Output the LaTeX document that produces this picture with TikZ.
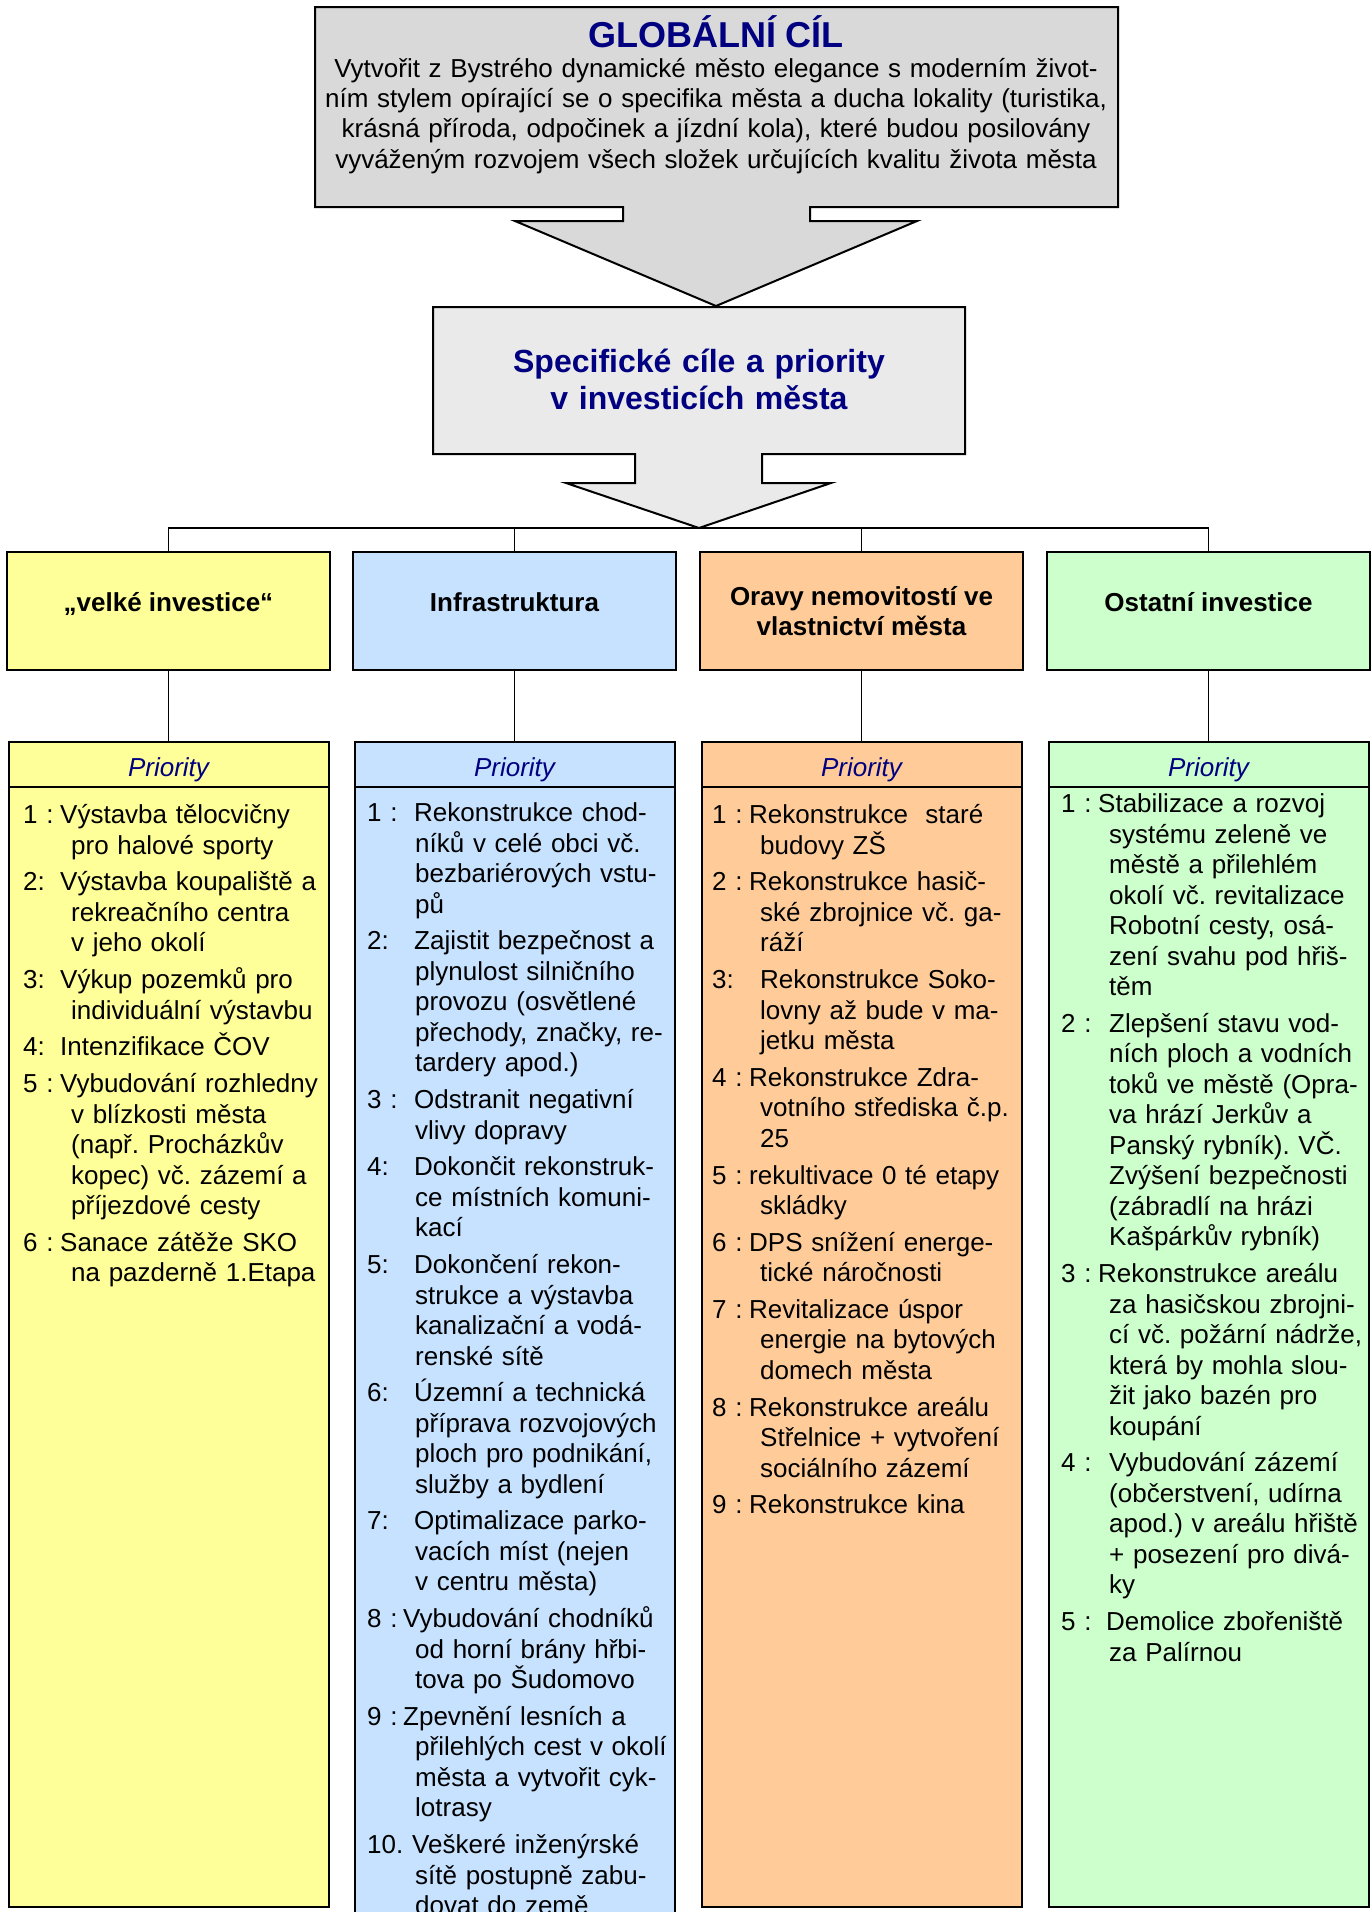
\documentclass[tikz,border=0pt]{standalone}
\usepackage{fontspec}
\setmainfont{Liberation Sans}
\usetikzlibrary{positioning}
\frenchspacing
\definecolor{goalgray}{HTML}{D9D9D9}
\definecolor{specgray}{HTML}{EAEAEA}
\definecolor{titleblue}{HTML}{000080}
\definecolor{invyellow}{HTML}{FFFF99}
\definecolor{infblue}{HTML}{C6E2FF}
\definecolor{repairorange}{HTML}{FFCC99}
\definecolor{othergreen}{HTML}{CCFFCC}
\newcommand{\prioitem}[3]{\par\noindent\hangindent=48pt\hangafter=1\makebox[#1][l]{#2}#3\par}
\tikzstyle{blockarrow} = [draw=black, line width=2pt]
\tikzstyle{goaltext} = [text width=800pt, inner sep=0pt, anchor=base, align=center, font=\fontsize{26}{30.3}\selectfont]
\tikzstyle{spectext} = [text width=520pt, inner sep=0pt, anchor=base, align=center, text=titleblue, font=\fontsize{32}{37}\selectfont\bfseries]
\tikzstyle{category} = [rectangle, minimum width=323pt, minimum height=118pt, text centered, align=center, draw=black, line width=2pt, outer sep=0pt, font=\fontsize{26}{30}\selectfont\bfseries]
\tikzstyle{oneline} = [text height=14pt, text depth=14pt]
\tikzstyle{prihead} = [rectangle, minimum width=320pt, minimum height=45pt, text height=24pt, text depth=0pt, draw=black, line width=2pt, outer sep=0pt, text=titleblue, font=\fontsize{26}{30}\selectfont\itshape]
\tikzstyle{pribody} = [rectangle, minimum width=320pt, minimum height=1120pt, draw=black, line width=2pt, outer sep=0pt]
\tikzstyle{prilist} = [text width=340pt, inner sep=0pt, anchor=base west, align=left, font=\fontsize{26}{30.5}\selectfont, execute at begin node={\setlength{\parskip}{6.2pt}}]
\tikzstyle{line} = [line width=1.6pt]

\begin{document}
\begin{tikzpicture}[x=1pt, y=-1pt]
    \clip (0,0) rectangle (1371,1912);
    \fill [white] (0,0) rectangle (1371,1912);

    % block arrows
    \filldraw [blockarrow, fill=goalgray] (315,7) -- (1118,7) -- (1118,207) -- (810,207) -- (810,221) -- (917,221) -- (716,306) -- (515,221) -- (623,221) -- (623,207) -- (315,207) -- cycle;
    \filldraw [blockarrow, fill=specgray] (433,307) -- (965,307) -- (965,454) -- (762,454) -- (762,483) -- (831,483) -- (699,528) -- (566,483) -- (635,483) -- (635,454) -- (433,454) -- cycle;

    \node (goal) [goaltext] at (716,47) {{\fontsize{36}{36}\selectfont\bfseries\color{titleblue}GLOBÁLNÍ CÍL\par}
        Vytvořit z Bystrého dynamické město elegance s moderním život-\\
        ním stylem opírající se o specifika města a ducha lokality (turistika,\\
        krásná příroda, odpočinek a jízdní kola), které budou posilovány\\
        vyváženým rozvojem všech složek určujících kvalitu života města};
    \node (spec) [spectext] at (699,372) {Specifické cíle a priority\\ v investicích města};
    \coordinate (hub) at (699,528);

    \node (cat1) [category, oneline, fill=invyellow] at (168.5,611) {„velké investice“};
    \node (cat2) [category, oneline, fill=infblue, right=23pt of cat1] {Infrastruktura};
    \node (cat3) [category, fill=repairorange, right=24pt of cat2] {Oravy nemovitostí ve\\ vlastnictví města};
    \node (cat4) [category, oneline, fill=othergreen, right=24pt of cat3] {Ostatní investice};

    \node (head1) [prihead, fill=invyellow, below=72pt of cat1] {Priority};
    \node (head2) [prihead, fill=infblue, below=72pt of cat2] {Priority};
    \node (head3) [prihead, fill=repairorange, below=72pt of cat3] {Priority};
    \node (head4) [prihead, fill=othergreen, below=72pt of cat4] {Priority};

    \node (body1) [pribody, fill=invyellow, below=0pt of head1] {};
    \node (body2) [pribody, fill=infblue, below=0pt of head2, minimum height=1200pt] {};
    \node (body3) [pribody, fill=repairorange, below=0pt of head3] {};
    \node (body4) [pribody, fill=othergreen, below=0pt of head4] {};

    \draw [line] (cat1.north) |- (hub) -| (cat4.north);
    \draw [line] (cat2.north) -- (cat2.north |- hub);
    \draw [line] (cat3.north) -- (cat3.north |- hub);
    \draw [line] (cat1.south) -- (head1.north);
    \draw [line] (cat2.south) -- (head2.north);
    \draw [line] (cat3.south) -- (head3.north);
    \draw [line] (cat4.south) -- (head4.north);

    \node (list1) [prilist] at (23,787) {%
        \prioitem{37pt}{1 :}{Výstavba tělocvičny\newline pro halové sporty}
        \prioitem{37pt}{2:}{Výstavba koupaliště a\newline rekreačního centra\newline v jeho okolí}
        \prioitem{37pt}{3:}{Výkup pozemků pro\newline individuální výstavbu}
        \prioitem{37pt}{4:}{Intenzifikace ČOV}
        \prioitem{37pt}{5 :}{Vybudování rozhledny\newline v blízkosti města\newline (např. Procházkův\newline kopec) vč. zázemí a\newline příjezdové cesty}
        \prioitem{37pt}{6 :}{Sanace zátěže SKO\newline na pazderně 1.Etapa}};
    \node (list2) [prilist] at (367,785) {%
        \prioitem{47pt}{1 :}{Rekonstrukce chod-\newline níků v celé obci vč.\newline bezbariérových vstu-\newline pů}
        \prioitem{47pt}{2:}{Zajistit bezpečnost a\newline plynulost silničního\newline provozu (osvětlené\newline přechody, značky, re-\newline tardery apod.)}
        \prioitem{47pt}{3 :}{Odstranit negativní\newline vlivy dopravy}
        \prioitem{47pt}{4:}{Dokončit rekonstruk-\newline ce místních komuni-\newline kací}
        \prioitem{47pt}{5:}{Dokončení rekon-\newline strukce a výstavba\newline kanalizační a vodá-\newline renské sítě}
        \prioitem{47pt}{6:}{Územní a technická\newline příprava rozvojových\newline ploch pro podnikání,\newline služby a bydlení}
        \prioitem{47pt}{7:}{Optimalizace parko-\newline vacích míst (nejen\newline v centru města)}
        \prioitem{36pt}{8 :}{Vybudování chodníků\newline od horní brány hřbi-\newline tova po Šudomovo}
        \prioitem{36pt}{9 :}{Zpevnění lesních a\newline přilehlých cest v okolí\newline města a vytvořit cyk-\newline lotrasy}
        \prioitem{45pt}{10.}{Veškeré inženýrské\newline sítě postupně zabu-\newline dovat do země}};
    \node (list3) [prilist] at (712,787) {%
        \prioitem{37pt}{1 :}{Rekonstrukce\ \ staré\newline budovy ZŠ}
        \prioitem{37pt}{2 :}{Rekonstrukce hasič-\newline ské zbrojnice vč. ga-\newline ráží}
        \prioitem{48pt}{3:}{Rekonstrukce Soko-\newline lovny až bude v ma-\newline jetku města}
        \prioitem{37pt}{4 :}{Rekonstrukce Zdra-\newline votního střediska č.p.\newline 25}
        \prioitem{37pt}{5 :}{rekultivace 0 té etapy\newline skládky}
        \prioitem{37pt}{6 :}{DPS snížení energe-\newline tické náročnosti}
        \prioitem{37pt}{7 :}{Revitalizace úspor\newline energie na bytových\newline domech města}
        \prioitem{37pt}{8 :}{Rekonstrukce areálu\newline Střelnice + vytvoření\newline sociálního zázemí}
        \prioitem{37pt}{9 :}{Rekonstrukce kina}};
    \node (list4) [prilist] at (1061,776) {%
        \prioitem{37pt}{1 :}{Stabilizace a rozvoj\newline systému zeleně ve\newline městě a přilehlém\newline okolí vč. revitalizace\newline Robotní cesty, osá-\newline zení svahu pod hřiš-\newline těm}
        \prioitem{48pt}{2 :}{Zlepšení stavu vod-\newline ních ploch a vodních\newline toků ve městě (Opra-\newline va hrází Jerkův a\newline Panský rybník). VČ.\newline Zvýšení bezpečnosti\newline (zábradlí na hrázi\newline Kašpárkův rybník)}
        \prioitem{37pt}{3 :}{Rekonstrukce areálu\newline za hasičskou zbrojni-\newline cí vč. požární nádrže,\newline která by mohla slou-\newline žit jako bazén pro\newline koupání}
        \prioitem{48pt}{4 :}{Vybudování zázemí\newline (občerstvení, udírna\newline apod.) v areálu hřiště\newline + posezení pro divá-\newline ky}
        \prioitem{45pt}{5 :}{Demolice zbořeniště\newline za Palírnou}};
\end{tikzpicture}
\end{document}
